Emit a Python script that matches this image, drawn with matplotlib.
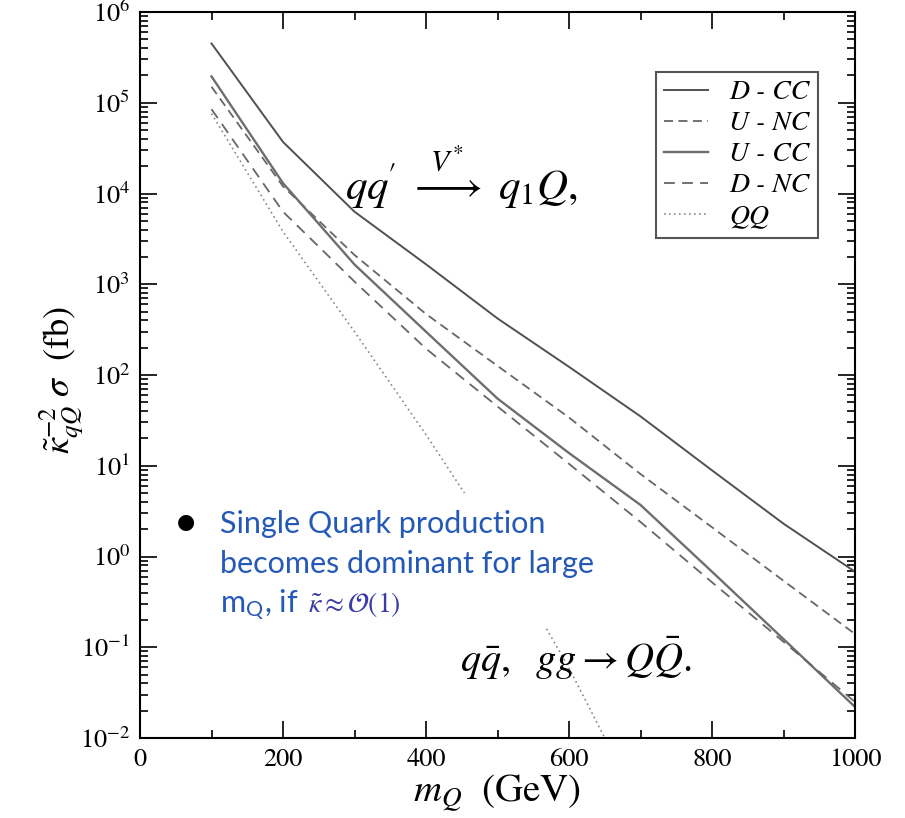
import matplotlib
matplotlib.use("Agg")
import matplotlib.pyplot as plt
from matplotlib.patches import Rectangle
from matplotlib.ticker import MultipleLocator, LogLocator, NullFormatter

plt.rcParams['mathtext.fontset'] = 'stix'
plt.rcParams['font.family'] = ['STIXGeneral', 'Liberation Serif', 'DejaVu Serif']

# quark mass (GeV)
m_q = [100, 200, 300, 400, 500, 600, 700, 800, 900, 1000]
m_pair = [100, 200, 300, 400, 500, 600, 700]

# kappa^-2 * sigma (fb)
d_cc = [4.5e5, 3.7e4, 6.3e3, 1.66e3, 4.2e2, 1.23e2, 35, 8.9, 2.3, 0.68]
u_nc = [1.5e5, 1.2e4, 2.1e3, 4.7e2, 1.26e2, 34, 8.1, 2.1, 0.54, 0.14]
u_cc = [1.95e5, 1.3e4, 1.65e3, 3.0e2, 55, 13.8, 3.7, 0.68, 0.123, 0.022]
d_nc = [8.5e4, 6.3e3, 1.07e3, 1.95e2, 45, 10.5, 2.4, 0.52, 0.115, 0.025]
qq_pair = [7.6e4, 3.8e3, 3.0e2, 22, 1.4, 0.059, 1.7e-3]

W, H = 905, 818


def fx(px):
    return px / W


def fy(py):
    return 1 - py / H


fig = plt.figure(figsize=(W / 100, H / 100), dpi=100)
ax = fig.add_axes([fx(140), fy(738), (855 - 140) / W, (738 - 12) / H])

ax.plot(m_q, d_cc, color='#505050', lw=1.4, label='D - CC')
ax.plot(m_q, u_nc, color='#666666', lw=1.3, ls=(0, (5, 3)), label='U - NC')
ax.plot(m_q, u_cc, color='#6e6e6e', lw=1.7, label='U - CC')
ax.plot(m_q, d_nc, color='#666666', lw=1.3, ls=(0, (6, 4)), label='D - NC')
ax.plot(m_pair, qq_pair, color='#888888', lw=1.2, ls=(0, (1, 2)), label='QQ')

ax.set_yscale('log')
ax.set_xlim(0, 1000)
ax.set_ylim(1e-2, 1e6)
ax.xaxis.set_major_locator(MultipleLocator(200))
ax.xaxis.set_minor_locator(MultipleLocator(100))
ax.yaxis.set_major_locator(LogLocator(base=10, numticks=20))
ax.yaxis.set_minor_locator(LogLocator(base=10, subs=range(2, 10), numticks=100))
ax.yaxis.set_minor_formatter(NullFormatter())
ax.tick_params(which='both', direction='in', top=True, right=True, width=1.2)
ax.tick_params(which='major', length=12, labelsize=19, pad=7)
ax.tick_params(which='minor', length=6)
for s in ax.spines.values():
    s.set_linewidth(1.5)

leg = ax.legend(loc='upper right', bbox_to_anchor=(0.948, 0.918), borderaxespad=0,
                fancybox=False, edgecolor='#555555', framealpha=1,
                prop={'family': 'STIXGeneral', 'style': 'italic', 'size': 20},
                handlelength=1.6, handletextpad=0.75, labelspacing=0.2, borderpad=0.3)
leg.get_frame().set_linewidth(1.5)

# process labels
fig.text(fx(345), fy(200), r"$qq^{\!\prime}\ \overset{V^{*}}{\longrightarrow}\ q_1Q,$",
         fontsize=31, ha='left', va='baseline')
fig.text(fx(460), fy(672), r"$q\bar{q},\ \ gg \rightarrow Q\bar{Q}.$",
         fontsize=29, ha='left', va='baseline')

# axis labels
fig.text(fx(62), fy(380), r"$\tilde{\kappa}_{qQ}^{-2}\ \sigma\ \ (\mathrm{fb})$",
         fontsize=26, rotation=90, ha='center', va='center')
fig.text(fx(497), fy(793), r"$m_Q\ \ (\mathrm{GeV})$", fontsize=28, ha='center', va='center')

# overlay note on white box
ax.add_patch(Rectangle((fx(165), fy(628)), fx(600) - fx(165), fy(493) - fy(628),
                       transform=fig.transFigure, facecolor='white', edgecolor='none',
                       zorder=3))
blue = '#2459b8'
fig.text(fx(186), fy(522), '\u25CF', fontsize=15, ha='center', va='center',
         family='DejaVu Sans', color='black', zorder=4)
fig.text(fx(220), fy(533), 'Single Quark production', fontsize=22, family='Lato',
         color=blue, ha='left', va='baseline', zorder=4)
fig.text(fx(220), fy(573), 'becomes dominant for large', fontsize=22, family='Lato',
         color=blue, ha='left', va='baseline', zorder=4)
fig.text(fx(220), fy(612), r'm$_\mathregular{Q}$, if', fontsize=22, family='Lato',
         color=blue, ha='left', va='baseline', zorder=4)
fig.text(fx(308), fy(612), r'$\tilde{\kappa} \approx \mathcal{O}(1)$', fontsize=20,
         color='#3a3aa8', ha='left', va='baseline', zorder=4)

fig.savefig('out.png', dpi=100)
